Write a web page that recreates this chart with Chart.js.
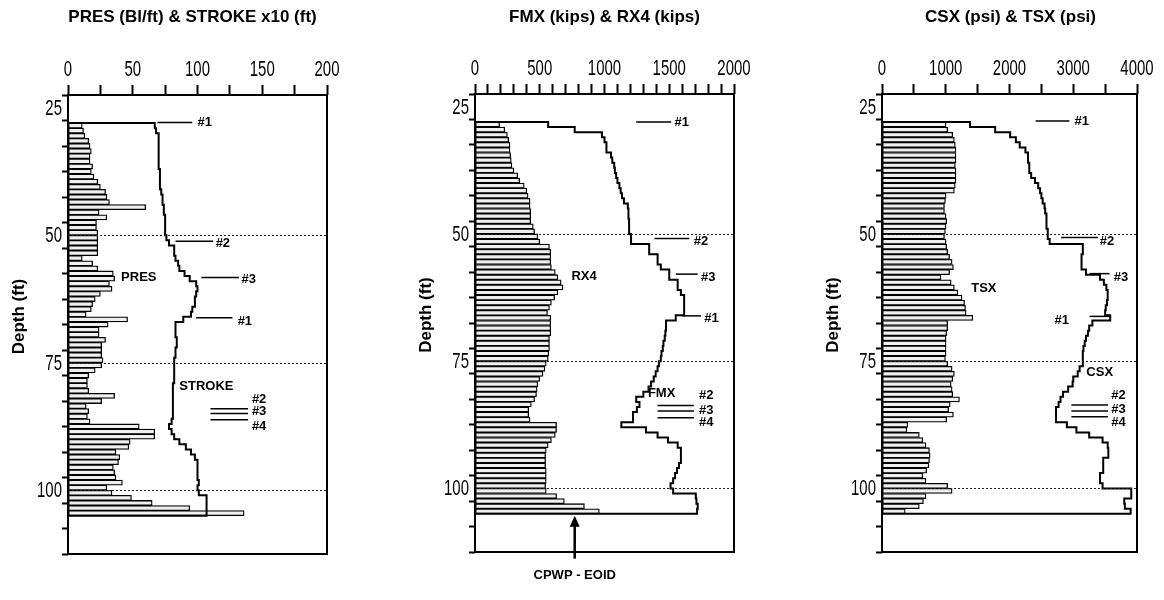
<!DOCTYPE html>
<html>
<head>
<meta charset="utf-8">
<script src="https://cdn.jsdelivr.net/npm/chart.js@4.4.0/dist/chart.umd.min.js"></script>
<style>
  html, body { margin: 0; padding: 0; background: #fff; }
  #wrap { position: relative; width: 1164px; height: 600px; overflow: hidden; }
  canvas { position: absolute; top: 0; }
</style>
</head>
<body>
<div id="wrap">
  <canvas id="c1" width="385" height="600" style="left:0px"></canvas>
  <canvas id="c2" width="385" height="600" style="left:390px"></canvas>
  <canvas id="c3" width="384" height="600" style="left:780px"></canvas>
</div>
<script>
// depth of top of each 1 ft interval (ft)
const depthFt = [28, 29, 30, 31, 32, 33, 34, 35, 36, 37, 38, 39, 40, 41, 42, 43, 44, 45, 46, 47,
  48, 49, 50, 51, 52, 53, 54, 55, 56, 57, 58, 59, 60, 61, 62, 63, 64, 65, 66, 67,
  68, 69, 70, 71, 72, 73, 74, 75, 76, 77, 78, 79, 80, 81, 82, 83, 84, 85, 86, 87,
  88, 89, 90, 91, 92, 93, 94, 95, 96, 97, 98, 99, 100, 101, 102, 103, 104];
const endDepth = 105;
const gridDepths = [50, 75, 100];

// panel 1 - PRES (bl/ft) bars, STROKE x10 (ft) line
const presBlows = [11, 12, 13, 16, 17, 18, 17, 17, 19, 18, 20, 23, 25, 29, 30, 32, 60, 24, 30, 22,
  22, 23, 23, 23, 23, 23, 11, 19, 23, 35, 36, 32, 34, 25, 21, 19, 18, 14, 46, 31,
  24, 24, 29, 26, 26, 26, 27, 26, 21, 16, 15, 15, 16, 36, 26, 14, 16, 15, 17, 55,
  67, 67, 48, 47, 37, 40, 39, 35, 36, 37, 42, 30, 34, 49, 65, 94, 136];
const strokeX10 = [67, 68, 70, 70, 70, 70, 70, 70, 70, 71, 71, 71, 71, 72, 73, 73, 74, 74, 75, 75,
  75, 75, 76, 78, 82, 82, 83, 85, 86, 90, 94, 99, 100, 99, 98, 98, 96, 95, 89, 83,
  83, 83, 84, 84, 83, 83, 82, 82, 82, 82, 82, 81, 81, 81, 81, 81, 81, 81, 80, 78,
  80, 82, 86, 91, 95, 98, 100, 100, 100, 100, 101, 100, 101, 107, 107, 107, 107];

// panel 2 - RX4 (kips) bars, FMX (kips) line
const rx4Kips = [190, 230, 250, 260, 270, 270, 275, 280, 285, 300, 330, 345, 380, 400, 410, 425, 425, 430, 430, 430,
  450, 460, 485, 500, 575, 585, 585, 585, 590, 620, 640, 665, 680, 640, 615, 590, 575, 560, 585, 585,
  585, 585, 575, 575, 575, 570, 565, 550, 540, 525, 500, 485, 480, 475, 460, 435, 415, 415, 425, 630,
  630, 620, 590, 565, 550, 545, 545, 545, 550, 550, 550, 545, 550, 630, 690, 845, 960];
const fmxKips = [565, 770, 980, 1000, 1015, 1015, 1050, 1060, 1075, 1080, 1090, 1100, 1115, 1125, 1135, 1150, 1180, 1185, 1185, 1190,
  1190, 1190, 1205, 1205, 1345, 1345, 1410, 1410, 1435, 1500, 1500, 1565, 1565, 1590, 1615, 1615, 1615, 1615, 1550, 1475,
  1475, 1470, 1465, 1455, 1450, 1440, 1435, 1420, 1410, 1395, 1380, 1360, 1340, 1300, 1245, 1270, 1250, 1220, 1220, 1130,
  1320, 1410, 1490, 1565, 1590, 1590, 1590, 1575, 1560, 1545, 1530, 1510, 1530, 1705, 1710, 1720, 1715];

// panel 3 - TSX (psi) bars, CSX (psi) line
const tsxPsi = [1005, 1030, 1110, 1135, 1150, 1160, 1160, 1160, 1150, 1160, 1160, 1160, 1150, 1135, 1005, 995, 980, 980, 1005, 1015,
  1005, 995, 980, 1005, 1015, 1030, 1060, 1100, 1120, 1060, 925, 1085, 1135, 1190, 1255, 1295, 1310, 1320, 1425, 1030,
  1030, 1015, 1005, 1005, 1005, 1005, 995, 1030, 1100, 1135, 1110, 1085, 1100, 1110, 1215, 1070, 1045, 1120, 1015, 405,
  390, 585, 640, 690, 745, 755, 745, 735, 700, 640, 690, 1030, 1100, 690, 650, 585, 365];
const csxPsi = [1380, 1775, 2010, 2100, 2160, 2250, 2290, 2290, 2310, 2310, 2340, 2400, 2450, 2480, 2500, 2520, 2550, 2560, 2580, 2580,
  2580, 2600, 2600, 2630, 3150, 3150, 3130, 3130, 3130, 3200, 3420, 3480, 3520, 3540, 3540, 3530, 3510, 3500, 3580, 3300,
  3250, 3230, 3200, 3180, 3160, 3150, 3150, 3150, 3100, 3070, 3000, 2990, 2920, 2840, 2800, 2770, 2730, 2730, 2730, 2900,
  3050, 3250, 3460, 3540, 3550, 3550, 3470, 3470, 3470, 3420, 3420, 3460, 3910, 3910, 3800, 3810, 3900];

// blow-count marker lines (#1..#4)
const p1MarkDepth = [27.9, 51.2, 58.3, 66.2, 84.0, 84.95, 86.2];
const p1MarkFrom = [69, 83, 103, 99, 110, 110, 110];
const p1MarkTo = [96, 112, 132, 127, 139, 139, 139];
const p2MarkDepth = [28.0, 50.9, 57.9, 66.1, 83.7, 84.8, 86.1];
const p2MarkFrom = [1245, 1385, 1550, 1600, 1410, 1410, 1410];
const p2MarkTo = [1515, 1655, 1720, 1745, 1690, 1690, 1690];
const p3MarkDepth = [27.8, 50.7, 57.8, 66.2, 83.6, 84.8, 85.9];
const p3MarkFrom = [2410, 2810, 3257, 3257, 2970, 2970, 2970];
const p3MarkTo = [2940, 3390, 3570, 3570, 3545, 3545, 3545];

const tickFamily = "'Liberation Sans', Arial, sans-serif";
const boldFamily = "'Liberation Sans', Arial, sans-serif";

function stepPoints(vals) {
  const pts = [{ x: 0, y: depthFt[0] }];
  vals.forEach((v, i) => pts.push({ x: v, y: depthFt[i] }));
  pts.push({ x: vals[vals.length - 1], y: endDepth });
  pts.push({ x: 0, y: endDepth });
  return pts;
}

// narrow tick text, like the condensed face of the original
function narrowText(ctx, text, x, y, align) {
  ctx.save();
  ctx.translate(x, y);
  ctx.scale(0.68, 1);
  ctx.textAlign = align;
  ctx.fillText(text, 0, 0);
  ctx.restore();
}

function makeOverlay(p) {
  return {
    id: 'overlay',
    afterDatasetsDraw(chart) {
      const ctx = chart.ctx, ca = chart.chartArea;
      const xs = chart.scales.x, ys = chart.scales.y;
      ctx.save();
      // dotted depth lines
      ctx.strokeStyle = '#222';
      ctx.lineWidth = 1;
      ctx.setLineDash([2, 2]);
      gridDepths.forEach(d => {
        const y = Math.round(ys.getPixelForValue(d)) + 0.5;
        ctx.beginPath();
        ctx.moveTo(ca.left, y);
        ctx.lineTo(ca.right, y);
        ctx.stroke();
      });
      ctx.setLineDash([]);
      // frame
      ctx.lineWidth = 2;
      ctx.strokeStyle = '#000';
      ctx.strokeRect(ca.left, ca.top, ca.right - ca.left, ca.bottom - ca.top);
      // tick labels
      ctx.fillStyle = '#000';
      ctx.font = '22px ' + tickFamily;
      ctx.textBaseline = 'middle';
      xs.ticks.forEach(t => {
        if (t.value % p.xLabelEvery === 0) {
          narrowText(ctx, String(t.value), xs.getPixelForValue(t.value), ca.top - 25, 'center');
        }
      });
      ys.ticks.forEach(t => {
        if (t.value % 25 === 0) {
          narrowText(ctx, String(t.value), ca.left - 6, ys.getPixelForValue(t.value) + 1, 'right');
        }
      });
      // labels
      ctx.font = 'bold 13px ' + boldFamily;
      ctx.textAlign = 'left';
      p.labels.forEach(l => ctx.fillText(l.t, xs.getPixelForValue(l.x), ys.getPixelForValue(l.y)));
      // title
      ctx.font = 'bold 17px ' + boldFamily;
      ctx.textAlign = 'center';
      ctx.fillText(p.title, (ca.left + ca.right) / 2 + p.titleShift, 17);
      // depth axis title
      ctx.save();
      ctx.translate(ca.left - 49, (ca.top + ca.bottom) / 2 - 8);
      ctx.rotate(-Math.PI / 2);
      ctx.fillText('Depth (ft)', 0, 0);
      ctx.restore();
      // CPWP - EOID arrow
      if (p.arrow) {
        const ax = xs.getPixelForValue(p.arrow.x);
        const tip = ys.getPixelForValue(p.arrow.tip);
        const tail = ys.getPixelForValue(p.arrow.tail);
        ctx.lineWidth = 2.5;
        ctx.beginPath();
        ctx.moveTo(ax, tail);
        ctx.lineTo(ax, tip + 8);
        ctx.stroke();
        ctx.beginPath();
        ctx.moveTo(ax, tip);
        ctx.lineTo(ax - 5, tip + 11);
        ctx.lineTo(ax + 5, tip + 11);
        ctx.closePath();
        ctx.fill();
        ctx.font = 'bold 13px ' + boldFamily;
        ctx.fillText(p.arrow.text, ax, tail + 17);
      }
      ctx.restore();
    }
  };
}

function makePanel(p) {
  const datasets = [{
    type: 'line',
    data: stepPoints(p.line),
    borderColor: '#000',
    borderWidth: 2,
    pointRadius: 0,
    stepped: 'after',
    fill: false,
    order: 0
  }];
  p.markDepth.forEach((d, i) => datasets.push({
    type: 'line',
    data: [{ x: p.markFrom[i], y: d }, { x: p.markTo[i], y: d }],
    borderColor: '#000',
    borderWidth: 1.5,
    pointRadius: 0,
    fill: false,
    order: 0
  }));
  datasets.push({
    type: 'bar',
    data: depthFt.map((d, i) => ({ x: p.bars[i], y: d + 0.5 })),
    backgroundColor: '#f0f0f0',
    borderColor: '#000',
    borderWidth: 1.3,
    borderSkipped: false,
    barPercentage: 1,
    categoryPercentage: 1,
    order: 1
  });

  new Chart(document.getElementById(p.id), {
    type: 'bar',
    data: { datasets },
    options: {
      indexAxis: 'y',
      responsive: false,
      animation: false,
      devicePixelRatio: 1,
      layout: { padding: { left: 0, top: 0, right: p.padRight, bottom: 600 - p.bottom } },
      plugins: { legend: { display: false }, tooltip: { enabled: false } },
      scales: {
        x: {
          type: 'linear',
          position: 'top',
          min: 0,
          max: p.xMax,
          afterFit: s => { s.height = p.top; s.paddingLeft = 0; s.paddingRight = 0; },
          ticks: { stepSize: p.xStep, autoSkip: false, maxRotation: 0, callback: () => '' },
          grid: { drawOnChartArea: false, drawTicks: true, tickLength: 10, tickColor: '#000', tickWidth: 2 },
          border: { display: false }
        },
        y: {
          type: 'linear',
          min: 25,
          max: 110,
          reverse: true,
          afterFit: s => { s.width = p.yWidth; s.paddingTop = 0; s.paddingBottom = 0; },
          ticks: { stepSize: 5, autoSkip: false, callback: () => '' },
          grid: { drawOnChartArea: false, drawTicks: true, tickLength: 6, tickColor: '#000', tickWidth: 2 },
          border: { display: false }
        }
      }
    },
    plugins: [makeOverlay(p)]
  });
}

makePanel({
  id: 'c1', title: 'PRES (Bl/ft) & STROKE x10 (ft)', titleShift: -5,
  xMax: 200, xStep: 25, xLabelEvery: 50,
  yWidth: 68, padRight: 58, top: 95, bottom: 554,
  bars: presBlows, line: strokeX10,
  markDepth: p1MarkDepth, markFrom: p1MarkFrom, markTo: p1MarkTo,
  labels: [
    { t: '#1', x: 100, y: 27.9 }, { t: '#2', x: 114, y: 51.6 }, { t: '#3', x: 134, y: 58.6 },
    { t: '#1', x: 131, y: 66.8 }, { t: '#2', x: 142, y: 82.2 }, { t: '#3', x: 142, y: 84.6 },
    { t: '#4', x: 142, y: 87.4 }, { t: 'PRES', x: 41, y: 58.3 }, { t: 'STROKE', x: 86, y: 79.7 }
  ]
});

makePanel({
  id: 'c2', title: 'FMX (kips) & RX4 (kips)', titleShift: 0,
  xMax: 2000, xStep: 100, xLabelEvery: 500,
  yWidth: 85, padRight: 41, top: 94, bottom: 552,
  bars: rx4Kips, line: fmxKips,
  markDepth: p2MarkDepth, markFrom: p2MarkFrom, markTo: p2MarkTo,
  labels: [
    { t: '#1', x: 1540, y: 28.0 }, { t: '#2', x: 1690, y: 51.5 }, { t: '#3', x: 1745, y: 58.6 },
    { t: '#1', x: 1770, y: 66.6 }, { t: '#2', x: 1730, y: 81.8 }, { t: '#3', x: 1730, y: 84.6 },
    { t: '#4', x: 1730, y: 87.1 }, { t: 'RX4', x: 745, y: 58.4 }, { t: 'FMX', x: 1335, y: 81.4 }
  ],
  arrow: { x: 770, tip: 105.4, tail: 113.8, text: 'CPWP - EOID' }
});

makePanel({
  id: 'c3', title: 'CSX (psi) & TSX (psi)', titleShift: 1,
  xMax: 4000, xStep: 500, xLabelEvery: 1000,
  yWidth: 102, padRight: 27, top: 94, bottom: 552,
  bars: tsxPsi, line: csxPsi,
  markDepth: p3MarkDepth, markFrom: p3MarkFrom, markTo: p3MarkTo,
  labels: [
    { t: '#1', x: 3020, y: 27.9 }, { t: '#2', x: 3415, y: 51.5 }, { t: '#3', x: 3635, y: 58.6 },
    { t: '#1', x: 2705, y: 66.9 }, { t: '#2', x: 3595, y: 81.7 }, { t: '#3', x: 3595, y: 84.4 },
    { t: '#4', x: 3595, y: 87.0 }, { t: 'TSX', x: 1400, y: 60.7 }, { t: 'CSX', x: 3205, y: 77.3 }
  ]
});
</script>
</body>
</html>
